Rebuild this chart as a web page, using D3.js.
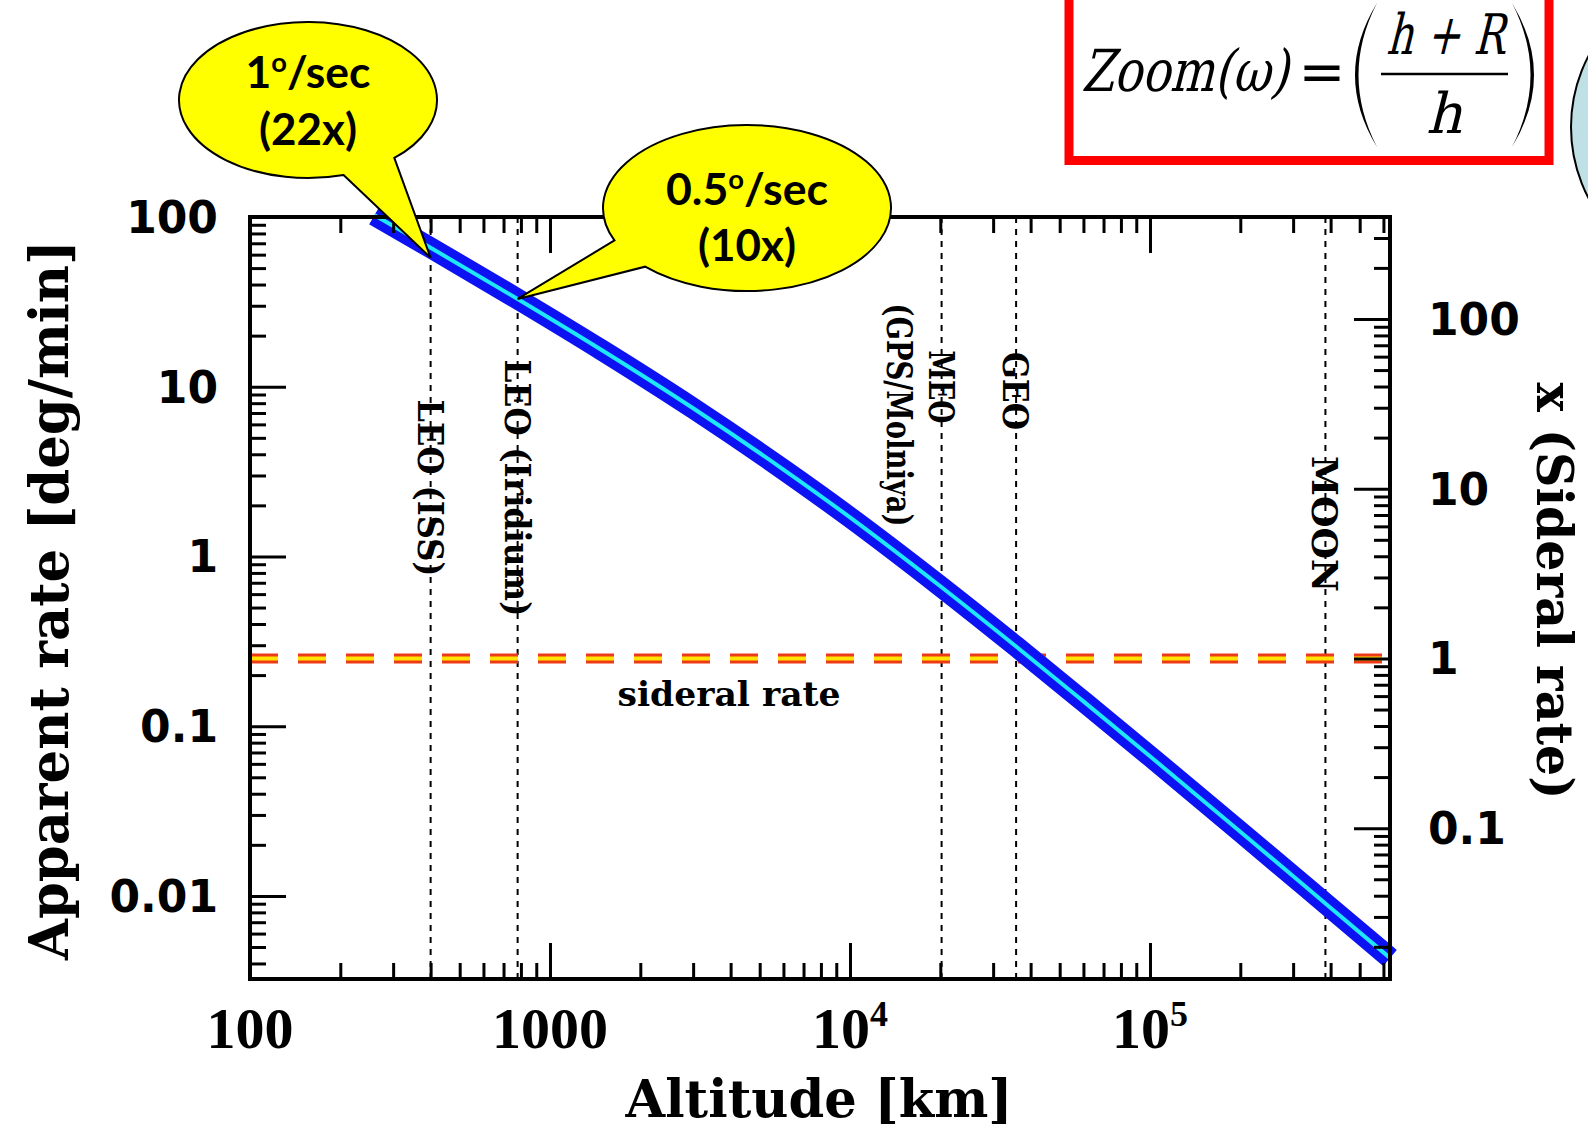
<!DOCTYPE html>
<html>
<head>
<meta charset="utf-8">
<script src="https://cdn.jsdelivr.net/npm/d3@7"></script>
<style>
  html, body { margin: 0; padding: 0; background: #fff; }
  svg { display: block; }
</style>
</head>
<body>
<div id="chart"></div>
<script>
// apparent angular rate of a satellite seen at zenith
const altitudeKm = [260, 400, 780, 1500, 3000, 6000, 10000, 20200, 35786, 60000, 100000, 200000, 384400, 631000]
const rateDegMin = [102.5, 65.9, 32.9, 16.3, 7.47, 3.25, 1.70, 0.659, 0.295, 0.140, 0.0665, 0.0239, 0.00903, 0.00431]
const siderealRate = 0.2507 // deg/min

const xDomain = [100, 631000]
const yDomain = [0.00324, 100]

const xTickValues = [100, 1000, 1e4, 1e5]
const xTickLabels = ["100", "1000", "10^4", "10^5"]
const yTickValues = [100, 10, 1, 0.1, 0.01]
const yTickLabels = ["100", "10", "1", "0.1", "0.01"]
const sidTickValues = [100, 10, 1, 0.1]
const sidTickLabels = ["100", "10", "1", "0.1"]

const orbitAltitudes = [400, 780, 20200, 35786, 384400]
const orbitLabels = [["LEO (ISS)"], ["LEO (Iridium)"], ["MEO", "(GPS/Molniya)"], ["GEO"], ["MOON"]]

const calloutAltitudes = [400, 780]
const calloutRates = [65.9, 32.9]
const calloutText = [["1º/sec", "(22x)"], ["0.5º/sec", "(10x)"]]

const W = 1588, H = 1133
const plotL = 250, plotR = 1390, plotT = 217, plotB = 979

const svg = d3.select("#chart").append("svg")
  .attr("width", W)
  .attr("height", H)
  .attr("viewBox", [0, 0, W, H])

const x = d3.scaleLog().domain(xDomain).range([plotL, plotR])
const y = d3.scaleLog().domain(yDomain).range([plotB, plotT])
const ySid = d3.scaleLog().domain(yDomain.map(d => d / siderealRate)).range([plotB, plotT])

const isMajor = d => Math.abs(Math.log10(d) - Math.round(Math.log10(d))) < 1e-6

// --- decoration: formula box + cut off circle
svg.append("circle")
  .attr("cx", 1724).attr("cy", 127).attr("r", 153)
  .attr("fill", "#bfe0e5").attr("stroke", "#000").attr("stroke-width", 2)

svg.append("rect")
  .attr("x", 1069).attr("y", -20).attr("width", 480).attr("height", 180.5)
  .attr("fill", "#fff").attr("stroke", "#ff0000").attr("stroke-width", 9)

// no serif italic face installed, so slant the upright one
const fml = svg.append("g")
  .style("font-family", "'DejaVu Serif', serif")
  .style("font-weight", "normal")
  .attr("fill", "#000")
const slanted = (px, py, size, anchor, len, str) => {
  const t = fml.append("g").attr("transform", `translate(${px},${py}) skewX(-14)`)
    .append("text")
    .attr("text-anchor", anchor)
    .style("font-size", size + "px")
    .text(str)
  if (len) t.attr("textLength", len).attr("lengthAdjust", "spacingAndGlyphs")
}
slanted(1081, 91, 58, "start", 207, "Zoom(ω)")
fml.append("text").attr("x", 1322).attr("y", 91).attr("text-anchor", "middle")
  .style("font-size", "56px").text("=")
slanted(1445, 54, 56, "middle", 118, "h + R")
fml.append("line").attr("x1", 1381).attr("x2", 1508).attr("y1", 74).attr("y2", 74)
  .attr("stroke", "#000").attr("stroke-width", 2.5)
slanted(1444, 133, 56, "middle", null, "h")
fml.append("path").attr("d", "M1377,3 Q1333,75 1377,147 Q1340,75 1377,3 Z").attr("fill", "#000")
fml.append("path").attr("d", "M1512,3 Q1556,75 1512,147 Q1549,75 1512,3 Z").attr("fill", "#000")

// --- orbit markers
const orbitG = svg.append("g")
orbitG.selectAll("line")
  .data(orbitAltitudes)
  .join("line")
  .attr("x1", d => x(d)).attr("x2", d => x(d))
  .attr("y1", plotT).attr("y2", plotB)
  .attr("stroke", "#000").attr("stroke-width", 2)
  .attr("stroke-dasharray", "6,6")

const labelMid = [488, 488, 387, 391, 524]
const labelLen = [[177], [257], [73, 223], [78], [136]]
const labelLineShift = [0, 42]
orbitLabels.forEach((lines, i) => {
  lines.forEach((txt, j) => {
    const bx = x(orbitAltitudes[i]) - 13 - labelLineShift[j]
    const cy = j === 0 ? labelMid[i] : labelMid[i] + 28
    orbitG.append("text")
      .attr("transform", `translate(${bx},${cy}) rotate(90)`)
      .attr("text-anchor", "middle")
      .attr("textLength", labelLen[i][j]).attr("lengthAdjust", "spacingAndGlyphs")
      .style("font-family", "'DejaVu Serif', serif")
      .style("font-size", "36px").style("font-weight", "bold")
      .text(txt)
  })
})

// --- sidereal rate line
const ys = y(siderealRate)
svg.append("line")
  .attr("x1", plotL).attr("x2", plotR).attr("y1", ys).attr("y2", ys)
  .attr("stroke", "#ee3a16").attr("stroke-width", 10).attr("stroke-dasharray", "28,20")
svg.append("line")
  .attr("x1", plotL).attr("x2", plotR).attr("y1", ys).attr("y2", ys)
  .attr("stroke", "#ffe400").attr("stroke-width", 4).attr("stroke-dasharray", "28,20")
svg.append("text")
  .attr("x", 729).attr("y", 706).attr("text-anchor", "middle")
  .attr("textLength", 223).attr("lengthAdjust", "spacingAndGlyphs")
  .style("font-family", "'DejaVu Serif', serif")
  .style("font-size", "34px").style("font-weight", "bold")
  .text("sideral rate")

// --- the curve
const pts = altitudeKm.map((a, i) => [a, rateDegMin[i]])
const line = d3.line()
  .x(d => x(d[0]))
  .y(d => y(d[1]))
  .curve(d3.curveMonotoneX)
svg.append("path").datum(pts)
  .attr("d", line).attr("fill", "none")
  .attr("stroke", "#0d12f2").attr("stroke-width", 21)
svg.append("path").datum(pts)
  .attr("d", line).attr("fill", "none")
  .attr("stroke", "#1ee8f8").attr("stroke-width", 4)

// --- axes (inward ticks on all four sides)
const styleAxis = g => {
  g.select(".domain").remove()
  g.selectAll("line").attr("stroke", "#000").attr("stroke-width", 3)
}
const xt = x.ticks()
const yt = y.ticks()
const st = ySid.ticks()
const addAxis = (axis, scale, ticks, tr) => {
  svg.append("g").attr("transform", tr)
    .call(axis(scale).tickValues(ticks.filter(d => !isMajor(d))).tickSize(-16).tickFormat(""))
    .call(styleAxis)
  svg.append("g").attr("transform", tr)
    .call(axis(scale).tickValues(ticks.filter(isMajor)).tickSize(-36).tickFormat(""))
    .call(styleAxis)
}
addAxis(d3.axisBottom, x, xt, `translate(0,${plotB})`)
addAxis(d3.axisTop, x, xt, `translate(0,${plotT})`)
addAxis(d3.axisLeft, y, yt, `translate(${plotL},0)`)
addAxis(d3.axisRight, ySid, st, `translate(${plotR},0)`)

svg.append("rect")
  .attr("x", plotL).attr("y", plotT).attr("width", plotR - plotL).attr("height", plotB - plotT)
  .attr("fill", "none").attr("stroke", "#000").attr("stroke-width", 4)

// --- tick labels
const xl = svg.append("g")
  .style("font-family", "'Liberation Serif', 'Times New Roman', serif")
  .style("font-size", "58px").style("font-weight", "bold")
xTickValues.forEach((v, i) => {
  const [base, exp] = xTickLabels[i].split("^")
  const t = xl.append("text").attr("x", x(v)).attr("y", 1048).attr("text-anchor", "middle")
  t.append("tspan").text(base)
  if (exp) t.append("tspan").attr("dy", -22).style("font-size", "36px").text(exp)
})

const yl = svg.append("g")
  .style("font-family", "'DejaVu Sans', sans-serif")
  .style("font-size", "44px").style("font-weight", "bold")
yl.selectAll(".yl")
  .data(yTickValues)
  .join("text")
  .attr("x", 218).attr("y", d => y(d)).attr("dy", "0.36em")
  .attr("text-anchor", "end")
  .text((d, i) => yTickLabels[i])
yl.selectAll(".sl")
  .data(sidTickValues)
  .join("text")
  .attr("x", 1428).attr("y", d => ySid(d)).attr("dy", "0.36em")
  .attr("text-anchor", "start")
  .text((d, i) => sidTickLabels[i])

// --- axis titles
const titleFont = "'DejaVu Serif', serif"
svg.append("text")
  .attr("x", 819).attr("y", 1117).attr("text-anchor", "middle")
  .attr("textLength", 387).attr("lengthAdjust", "spacingAndGlyphs")
  .style("font-family", titleFont).style("font-size", "52px").style("font-weight", "bold")
  .text("Altitude [km]")
svg.append("text")
  .attr("transform", "translate(68,600) rotate(-90)")
  .attr("text-anchor", "middle")
  .attr("textLength", 720).attr("lengthAdjust", "spacingAndGlyphs")
  .style("font-family", titleFont).style("font-size", "54px").style("font-weight", "bold")
  .text("Apparent rate [deg/min]")
svg.append("text")
  .attr("transform", "translate(1537,591) rotate(90)")
  .attr("text-anchor", "middle")
  .attr("textLength", 417).attr("lengthAdjust", "spacingAndGlyphs")
  .style("font-family", titleFont).style("font-size", "50px").style("font-weight", "bold")
  .text("x (Sideral rate)")

// --- speech bubbles
const bubbles = [
  { cx: 308, cy: 100, rx: 129, ry: 78, aHi: 74, aLo: 48, dy: 10, base: [88, 145], len: [125, 98] },
  { cx: 747, cy: 208, rx: 144, ry: 83, aHi: 157, aLo: 135, dy: 0, base: [205, 261], len: [162, 98] }
]
const onEllipse = (b, a) => {
  const r = a * Math.PI / 180
  return [b.cx + b.rx * Math.cos(r), b.cy + b.ry * Math.sin(r)]
}
bubbles.forEach((b, i) => {
  const tip = [x(calloutAltitudes[i]), y(calloutRates[i]) + b.dy]
  const p1 = onEllipse(b, b.aHi)
  const p2 = onEllipse(b, b.aLo)
  const d = `M${p1} L${tip} L${p2} A${b.rx},${b.ry} 0 1 0 ${p1} Z`
  svg.append("path").attr("d", d)
    .attr("fill", "#ffff00").attr("stroke", "#000").attr("stroke-width", 2)

  calloutText[i].forEach((txt, j) => {
    const t = svg.append("text")
      .attr("x", b.cx).attr("y", b.base[j]).attr("text-anchor", "middle")
      .attr("textLength", b.len[j]).attr("lengthAdjust", "spacingAndGlyphs")
      .style("font-family", "Lato, 'Open Sans', sans-serif")
      .style("font-size", "44px").style("font-weight", "bold")
    const parts = txt.split("º")
    t.append("tspan").text(parts[0])
    if (parts.length > 1) {
      t.append("tspan").attr("dy", -16).style("font-size", "27px").text("o")
      t.append("tspan").attr("dy", 16).text(parts[1])
    }
  })
})
</script>
</body>
</html>
